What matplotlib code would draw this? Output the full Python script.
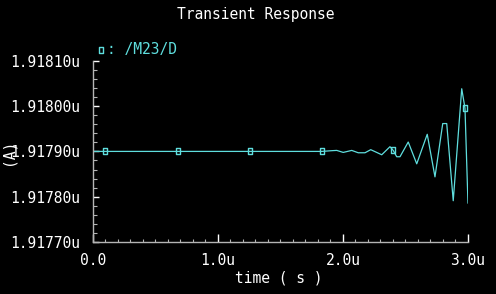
import numpy as np
import matplotlib
matplotlib.use("Agg")
import matplotlib.pyplot as plt
from matplotlib.path import Path
from matplotlib.ticker import MultipleLocator, FuncFormatter

# --- data (time in us, current in uA) ---
time_us = [0.0, 1.656, 1.830, 1.910, 1.950, 2.002, 2.070, 2.122, 2.176, 2.222,
           2.264, 2.310, 2.376, 2.402, 2.430, 2.456, 2.522, 2.590, 2.674, 2.736,
           2.798, 2.830, 2.882, 2.950, 2.976, 3.000]
dev = [0.0, 0.0, 0.0, 0.016, 0.022, -0.022, 0.022, -0.030, -0.030, 0.038,
       -0.015, -0.074, 0.104, 0.022, -0.118, -0.118, 0.207, -0.274, 0.378, -0.562,
       0.615, 0.615, -1.089, 1.384, 0.956, -1.140]
current_ua = [1.9179 + d * 1e-4 for d in dev]

marker_t = [0.096, 0.680, 1.256, 1.832, 2.402, 2.976]
marker_i = [1.9179, 1.9179, 1.9179, 1.9179, 1.9179 + 0.022e-4, 1.9179 + 0.956e-4]

yticks = [1.9177, 1.9178, 1.9179, 1.9180, 1.9181]
xticks = [0.0, 1.0, 2.0, 3.0]
xlabels = ["0.0", "1.0u", "2.0u", "3.0u"]

cyan = "#5fdede"
axcol = "#b4b4b4"
mono = "DejaVu Sans Mono"

# tall narrow hollow box marker
box = Path([(-0.3, -0.5), (0.3, -0.5), (0.3, 0.5), (-0.3, 0.5), (-0.3, -0.5)],
           [Path.MOVETO, Path.LINETO, Path.LINETO, Path.LINETO, Path.CLOSEPOLY])

fig = plt.figure(figsize=(4.96, 2.94), dpi=100, facecolor="black")
ax = fig.add_axes([0.1875, 0.177, 0.756, 0.616], facecolor="black")

ax.plot(time_us, current_ua, color=cyan, linewidth=0.9)
ax.plot(marker_t, marker_i, linestyle="none", marker=box, markersize=4.5,
        markerfacecolor="none", markeredgecolor=cyan, markeredgewidth=1.0)

ax.set_xlim(0, 3.0)
ax.set_ylim(1.9177, 1.9181)

for s in ["top", "right"]:
    ax.spines[s].set_visible(False)
for s in ["left", "bottom"]:
    ax.spines[s].set_color(axcol)
    ax.spines[s].set_linewidth(1.0)

ax.set_xticks(xticks)
ax.set_xticklabels(xlabels)
ax.xaxis.set_minor_locator(MultipleLocator(0.1))
ax.set_yticks(yticks)
ax.yaxis.set_major_formatter(FuncFormatter(lambda v, p: "%.5fu" % v))
ax.yaxis.set_minor_locator(MultipleLocator(0.00002))

ax.tick_params(axis="both", which="both", direction="in", labelcolor="white",
               labelsize=10.5)
ax.tick_params(axis="both", which="major", color="white")
ax.tick_params(axis="both", which="minor", color=axcol)
ax.tick_params(axis="x", which="major", length=6, width=1.0, pad=8)
ax.tick_params(axis="x", which="minor", length=2.5, width=0.8)
ax.tick_params(axis="y", which="major", length=4, width=1.0, pad=9)
ax.tick_params(axis="y", which="minor", length=3, width=0.8)
for lab in ax.get_xticklabels() + ax.get_yticklabels():
    lab.set_family(mono)

fig.text(0.515, 0.952, "Transient Response", color="white", fontsize=10.5,
         family=mono, ha="center", va="center")
fig.text(0.563, 0.055, "time ( s )", color="white", fontsize=10.5,
         family=mono, ha="center", va="center")
fig.text(0.016, 0.483, "(A)", color="white", fontsize=10.5, rotation=90,
         family=mono, ha="center", va="center")

# legend entry
ax.plot([0.204], [0.83], transform=fig.transFigure, marker=box, markersize=4.5,
        markerfacecolor="none", markeredgecolor=cyan, linestyle="none",
        clip_on=False)
fig.text(0.215, 0.83, ": /M23/D", color=cyan, fontsize=10.5, family=mono,
         ha="left", va="center")

fig.savefig("out.png", dpi=100, facecolor="black")
